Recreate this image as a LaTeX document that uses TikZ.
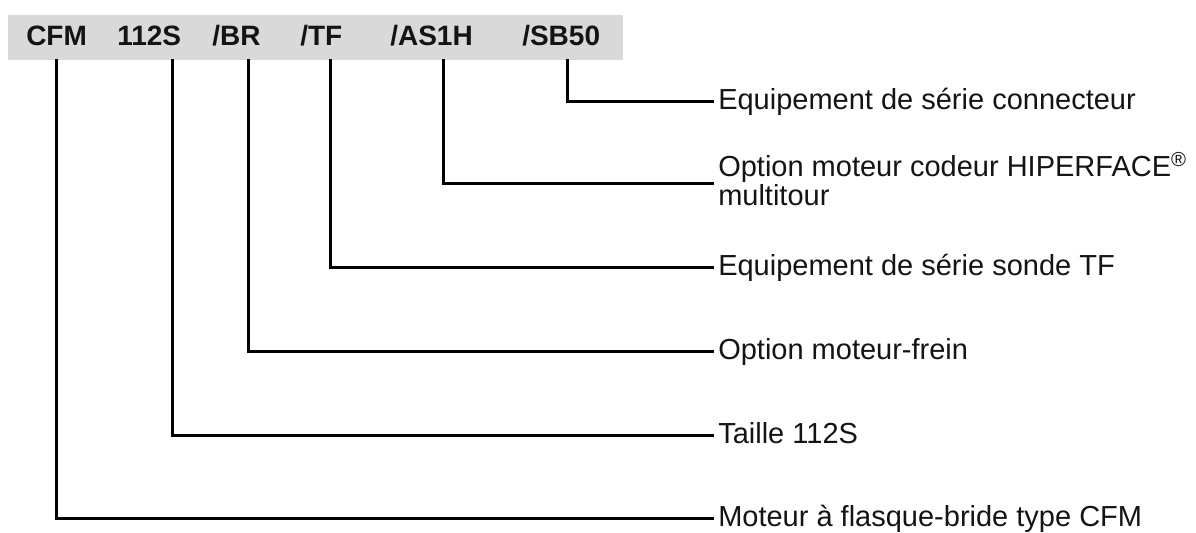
\documentclass[tikz,border=0pt]{standalone}
\usepackage{fontspec}
\setmainfont{Liberation Sans}
\definecolor{barg}{RGB}{217,217,217}
\definecolor{ink}{RGB}{20,20,20}
\begin{document}
\begin{tikzpicture}[x=0.75pt,y=-0.75pt,
  code/.style={font=\fontsize{21pt}{25pt}\selectfont\bfseries, text=ink, anchor=base west, inner sep=0pt},
  lab/.style={font=\fontsize{21.75pt}{18.75pt}\selectfont, text=ink, anchor=base west, inner sep=0pt, align=left, xshift=3pt, yshift=-6pt},
  wire/.style={line width=2.25pt, line join=miter, draw=black}]
\useasboundingbox (0,0) rectangle (1196,532);
\fill[barg] (8,15) rectangle (623,60);
% codes
\node[code] (cfm)  at (26,45)  {CFM};
\node[code] (t112) at (117,45) {112S};
\node[code] (br)   at (212,45) {/BR};
\node[code] (tf)   at (300,45) {/TF};
\node[code] (as)   at (390,45) {/AS1H};
\node[code] (sb)   at (522,45) {/SB50};
% start points under the bar
\coordinate (s1) at (56,59);
\coordinate (s2) at (172,59);
\coordinate (s3) at (248,59);
\coordinate (s4) at (330,59);
\coordinate (s5) at (443,59);
\coordinate (s6) at (567,59);
% end points
\coordinate (e6) at (714,101);
\coordinate (e5) at (714,183);
\coordinate (e4) at (714,267);
\coordinate (e3) at (714,351);
\coordinate (e2) at (714,435);
\coordinate (e1) at (714,518);
% labels
\node[lab] (l6) at (e6) {Equipement de série connecteur};
\node[lab, yshift=-10.5pt] (l5) at (e5) {Option moteur codeur HIPERFACE\textsuperscript{®}\\multitour};
\node[lab] (l4) at (e4) {Equipement de série sonde TF};
\node[lab] (l3) at (e3) {Option moteur-frein};
\node[lab] (l2) at (e2) {Taille 112S};
\node[lab] (l1) at (e1) {Moteur à flasque-bride type CFM};
% connectors
\draw[wire] (s6) |- (e6);
\draw[wire] (s5) |- (e5);
\draw[wire] (s4) |- (e4);
\draw[wire] (s3) |- (e3);
\draw[wire] (s2) |- (e2);
\draw[wire] (s1) |- (e1);
\end{tikzpicture}
\end{document}
